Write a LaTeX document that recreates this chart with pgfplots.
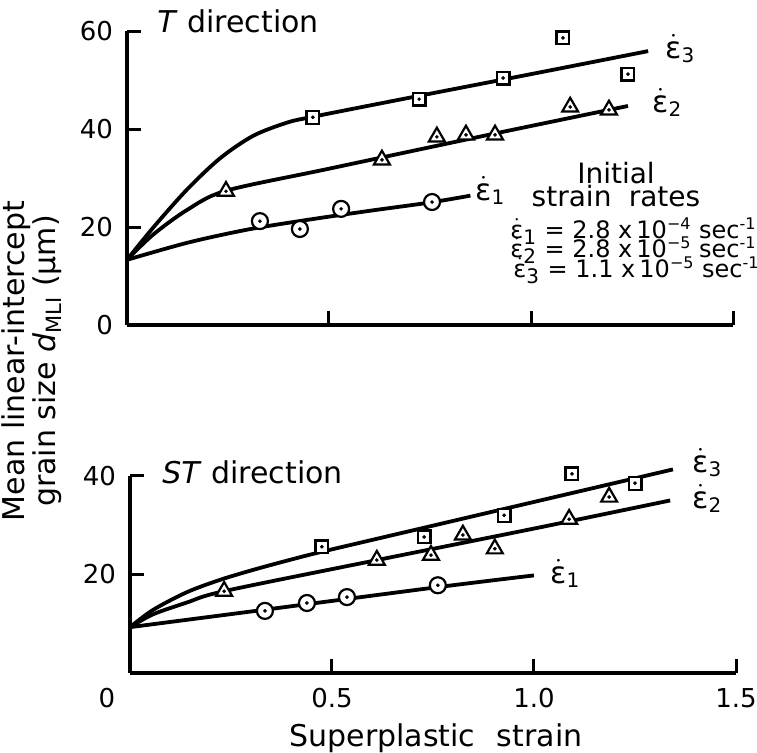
\documentclass[border=0pt]{standalone}
\usepackage{fontspec}
\setmainfont{DejaVu Sans}
\usepackage{pgfplots}
\pgfplotsset{compat=1.18}
\usepackage{pgfplotstable}

\newcommand{\ed}[1]{\ensuremath{\dot{\mbox{ε}}_{\mbox{\fontsize{10}{10}\selectfont #1}}}}

% top panel (T direction) data
\pgfplotstableread{
x y
0.329 21.2
0.428 19.6
0.530 23.7
0.755 25.1
}\TcircData
\pgfplotstableread{
x y
0.245 27.3
0.631 33.7
0.767 38.4
0.839 38.8
0.911 38.8
1.097 44.5
1.193 43.9
}\TtriData
\pgfplotstableread{
x y
0.460 42.4
0.723 46.1
0.931 50.4
1.079 58.6
1.240 51.2
}\TsqData
% bottom panel (ST direction) data
\pgfplotstableread{
x y
0.334 12.6
0.438 14.2
0.537 15.4
0.762 17.8
}\ScircData
\pgfplotstableread{
x y
0.233 16.6
0.611 22.9
0.745 23.9
0.824 28.0
0.903 25.2
1.087 31.2
1.186 35.7
}\StriData
\pgfplotstableread{
x y
0.475 25.6
0.728 27.6
0.926 32.0
1.094 40.4
1.250 38.5
}\SsqData

\pgfplotsset{
  panel/.style={
    axis lines=left,
    axis line style={-, line width=1.9pt, black},
    tick align=inside,
    major tick length=7pt,
    tick style={line width=1.5pt, black},
    xmin=0, xmax=1.5, x=202pt,
    anchor=origin, clip=false,
    tick label style={font=\fontsize{13}{13}\selectfont},
    /pgf/number format/assume math mode=true,
    yticklabel style={xshift=-3.5pt},
    xticklabel style={yshift=-4pt},
  },
  fitline/.style={line width=1.9pt, black, smooth, tension=0.5, mark=none},
  circ/.style={only marks, mark=*, mark size=4pt, mark options={line width=1.1pt, draw=black, fill=white}},
  sq/.style={only marks, mark=square*, mark size=3.2pt, mark options={line width=1.1pt, draw=black, fill=white}},
  tri/.style={only marks, mark=triangle*, mark size=4.6pt, mark options={line width=1.1pt, draw=black, fill=white}},
  dot/.style={only marks, mark=*, mark size=0.7pt, mark options={black}},
}

\begin{document}
\begin{tikzpicture}
\path[use as bounding box] (0,0) rectangle (378.5pt,-376pt);

% ---------- top panel ----------
\begin{axis}[panel, at={(63.5pt,-162.5pt)},
  ymin=0, ymax=60, y=2.45pt,
  ytick={0,20,40,60}, xtick={0.5,1,1.5}, xticklabels={}]
\addplot[fitline] coordinates {(0,13.3) (0.064,19.8) (0.148,27.6) (0.23,34.0) (0.312,38.6) (0.396,41.3) (0.46,42.5) (0.7,46.4) (1.0,51.2) (1.29,55.9)};
\addplot[fitline] coordinates {(0,13.3) (0.064,18.4) (0.149,23.5) (0.245,27.4) (0.5,31.9) (0.9,38.9) (1.24,44.7)};
\addplot[fitline] coordinates {(0,13.3) (0.15,16.8) (0.3,19.5) (0.45,21.5) (0.6,23.3) (0.75,25.0) (0.85,26.4)};
\addplot[circ] table {\TcircData};
\addplot[dot] table {\TcircData};
\addplot[tri] table {\TtriData};
\addplot[dot] table {\TtriData};
\addplot[sq] table {\TsqData};
\addplot[dot] table {\TsqData};
\end{axis}

% ---------- bottom panel ----------
\begin{axis}[panel, at={(65pt,-336.5pt)},
  ymin=0, ymax=40, y=2.465pt,
  ytick={20,40}, xtick={0.5,1,1.5}, xticklabels={0.5,1.0,1.5}]
\addplot[fitline] coordinates {(0,9.3) (0.057,12.8) (0.141,16.4) (0.223,18.9) (0.304,20.9) (0.389,22.8) (0.47,24.5) (0.636,27.7) (1.0,34.7) (1.344,41.3)};
\addplot[fitline] coordinates {(0,9.3) (0.057,11.9) (0.141,14.3) (0.233,16.6) (0.611,22.9) (1.0,29.3) (1.337,35.0)};
\addplot[fitline] coordinates {(0,9.3) (0.33,12.8) (0.76,17.4) (1.0,19.8)};
\addplot[circ] table {\ScircData};
\addplot[dot] table {\ScircData};
\addplot[tri] table {\StriData};
\addplot[dot] table {\StriData};
\addplot[sq] table {\SsqData};
\addplot[dot] table {\SsqData};
\end{axis}

% ---------- texts ----------
\begin{scope}[x=0.5pt,y=-0.5pt]
\node[anchor=base west, inner sep=0, font=\fontsize{15}{15}\selectfont] at (157,32) {\textit{T} direction};
\node[anchor=base west, inner sep=0, font=\fontsize{15}{15}\selectfont] at (162,483) {\textit{ST} direction};
\node[anchor=base west, inner sep=0, font=\fontsize{15}{15}\selectfont] at (665,58) {\ed{3}};
\node[anchor=base west, inner sep=0, font=\fontsize{15}{15}\selectfont] at (652,112) {\ed{2}};
\node[anchor=base west, inner sep=0, font=\fontsize{15}{15}\selectfont] at (475,200) {\ed{1}};
\node[anchor=base west, inner sep=0, font=\fontsize{15}{15}\selectfont] at (692,472) {\ed{3}};
\node[anchor=base west, inner sep=0, font=\fontsize{15}{15}\selectfont] at (692,508) {\ed{2}};
\node[anchor=base west, inner sep=0, font=\fontsize{15}{15}\selectfont] at (550,583) {\ed{1}};
\node[anchor=base, inner sep=0, font=\fontsize{14}{14}\selectfont] at (616,183) {Initial};
\node[anchor=base, inner sep=0, font=\fontsize{14}{14}\selectfont] at (616,206) {strain\hspace{0.3em} rates};
\node[anchor=base west, inner sep=0, font=\fontsize{12}{12}\selectfont] at (510,238) {\ed{1} = 2.8 x\,10\textsuperscript{−4} sec\textsuperscript{-1}};
\node[anchor=base west, inner sep=0, font=\fontsize{12}{12}\selectfont] at (510,257) {\ed{2} = 2.8 x\,10\textsuperscript{−5} sec\textsuperscript{-1}};
\node[anchor=base west, inner sep=0, font=\fontsize{12}{12}\selectfont] at (513,277) {\ed{3} = 1.1 x\,10\textsuperscript{−5} sec\textsuperscript{-1}};
\node[font=\fontsize{13}{13}\selectfont] at (107,698) {0};
\node[rotate=90, align=center, font=\fontsize{15}{12}\selectfont] at (32,361) {Mean linear-intercept\\grain size \textit{d}\textsubscript{MLI} (μm)};
\node[anchor=base, inner sep=0, font=\fontsize{15}{15}\selectfont] at (436,746) {Superplastic\hspace{0.4em} strain};
\end{scope}
\end{tikzpicture}
\end{document}
